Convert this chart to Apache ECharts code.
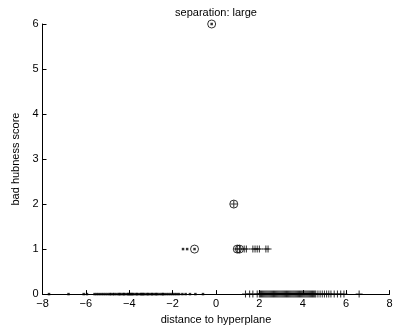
<!DOCTYPE html>
<html>
<head>
<meta charset="utf-8">
<script src="https://cdn.jsdelivr.net/npm/echarts@6/dist/echarts.min.js"></script>
<style>
  html, body { margin: 0; padding: 0; background: #fff; }
  #chart { width: 396px; height: 330px; }
</style>
</head>
<body>
<div id="chart"></div>
<script>
// Axis ticks
const xTicks = [-8, -6, -4, -2, 0, 2, 4, 6, 8];
const yTicks = [0, 1, 2, 3, 4, 5, 6];

// Negative class ('.') distances with score 0
const negDist0 = [-7.7, -6.8, -6.1, -5.95, -5.6, -5.5, -5.4, -5.3, -5.2, -5.1, -5.0, -4.9,
  -4.85, -4.75, -4.7, -4.6, -4.5, -4.45, -4.4, -4.3, -4.25, -4.2, -4.1, -4.05, -4.0, -3.95,
  -3.9, -3.85, -3.8, -3.7, -3.65, -3.6, -3.5, -3.45, -3.4, -3.35, -3.3, -3.2, -3.15, -3.1,
  -3.0, -2.95, -2.9, -2.8, -2.75, -2.7, -2.6, -2.5, -2.45, -2.4, -2.3, -2.2, -2.1, -2.0,
  -1.9, -1.8, -1.7, -1.55, -1.4, -1.2, -0.95, -0.6];
// Negative class points with nonzero score
const negDistHi = [-1.52, -1.33, -0.99, -0.2];
const negScoreHi = [1, 1, 1, 6];

// Positive class ('+') distances with score 0
const posDist0 = [1.36, 1.55, 1.7, 1.9, 2.0, 2.05, 2.1, 2.15, 2.2, 2.25, 2.3, 2.35, 2.4, 2.45,
  2.5, 2.55, 2.6, 2.65, 2.7, 2.75, 2.8, 2.85, 2.9, 2.95, 3.0, 3.05, 3.1, 3.15, 3.2, 3.25,
  3.3, 3.35, 3.4, 3.45, 3.5, 3.55, 3.6, 3.65, 3.7, 3.75, 3.8, 3.85, 3.9, 3.95, 4.0, 4.05,
  4.1, 4.15, 4.2, 4.25, 4.3, 4.35, 4.4, 4.45, 4.5, 4.55, 4.6, 4.7, 4.8, 4.9, 5.0, 5.1,
  5.2, 5.3, 5.45, 5.6, 5.75, 5.9, 6.6];
// Positive class points with nonzero score
const posDistHi = [0.98, 1.08, 1.3, 1.4, 1.7, 1.8, 1.9, 2.0, 2.3, 2.4, 0.82];
const posScoreHi = [1, 1, 1, 1, 1, 1, 1, 1, 1, 1, 2];

// Circled hub points
const hubDist = [-0.2, -0.99, 0.82, 0.98, 1.08];
const hubScore = [6, 1, 2, 1, 1];

const pair = (xs, ys) => xs.map((x, i) => [x, ys === null ? 0 : ys[i]]);
const plusPath = 'path://M-0.15,-1H0.15V-0.15H1V0.15H0.15V1H-0.15V0.15H-1V-0.15H-0.15Z';
const font = 'Liberation Sans, Arial, sans-serif';

const chart = echarts.init(document.getElementById('chart'), null, { renderer: 'canvas' });
chart.setOption({
  animation: false,
  backgroundColor: '#fff',
  title: {
    text: 'separation: large',
    left: 216, top: 7, padding: 0, textAlign: 'center',
    textStyle: { fontSize: 11, fontWeight: 'normal', color: '#000', fontFamily: font }
  },
  grid: { left: 42.5, right: 6.5, top: 24, bottom: 32.5, containLabel: false },
  xAxis: {
    type: 'value', min: xTicks[0], max: xTicks[xTicks.length - 1], interval: 2,
    name: 'distance to hyperplane', nameLocation: 'middle', nameGap: 18,
    nameTextStyle: { fontSize: 11, color: '#000', fontFamily: font },
    axisLine: { show: true, onZero: false, lineStyle: { color: '#000', width: 1 } },
    axisTick: { show: true, inside: true, length: 4, lineStyle: { color: '#000' } },
    axisLabel: { fontSize: 11, color: '#000', margin: 4, fontFamily: font,
      formatter: v => (v < 0 ? '\u2212' + Math.abs(v) : String(v)) },
    splitLine: { show: false }
  },
  yAxis: {
    type: 'value', min: yTicks[0], max: yTicks[yTicks.length - 1], interval: 1,
    name: 'bad hubness score', nameLocation: 'middle', nameGap: 21,
    nameTextStyle: { fontSize: 11, color: '#000', fontFamily: font },
    axisLine: { show: true, onZero: false, lineStyle: { color: '#000', width: 1 } },
    axisTick: { show: true, inside: true, length: 4, lineStyle: { color: '#000' } },
    axisLabel: { fontSize: 11, color: '#000', margin: 4, fontFamily: font },
    splitLine: { show: false }
  },
  series: [
    {
      type: 'scatter', clip: false, symbol: 'rect', symbolSize: 2.5,
      itemStyle: { color: '#000' },
      data: pair(negDist0, null).concat(pair(negDistHi, negScoreHi))
    },
    {
      type: 'scatter', clip: false, symbol: plusPath, symbolSize: 7,
      itemStyle: { color: '#000' },
      data: pair(posDist0, null).concat(pair(posDistHi, posScoreHi))
    },
    {
      type: 'scatter', clip: false, symbol: 'circle', symbolSize: 8,
      itemStyle: { color: 'none', borderColor: '#000', borderWidth: 1 },
      data: pair(hubDist, hubScore)
    }
  ]
});
</script>
</body>
</html>
